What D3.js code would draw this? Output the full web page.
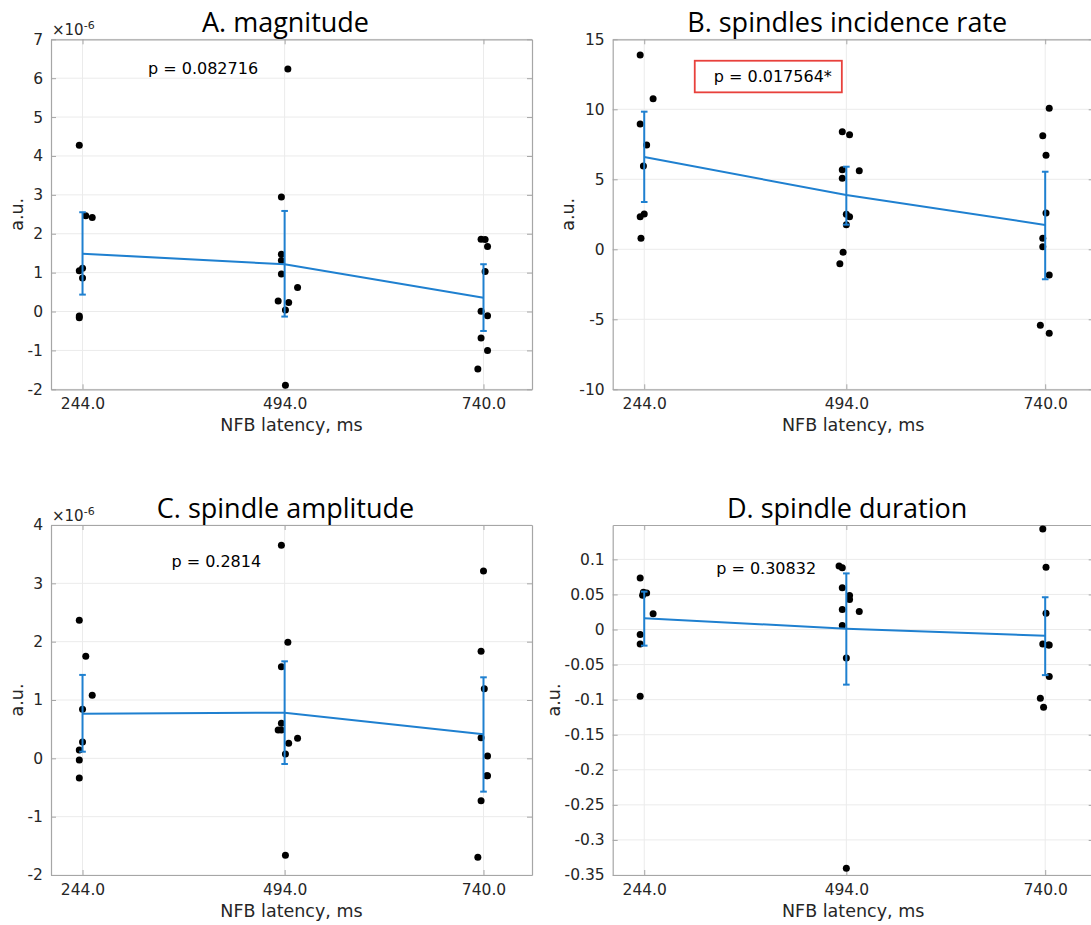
<!DOCTYPE html>
<html><head><meta charset="utf-8">
<script src="https://cdn.jsdelivr.net/npm/d3@7"></script>
<style>body{margin:0;background:#fff} svg{display:block}</style>
</head><body>
<svg id="chart" width="1091" height="925"></svg>
<script>
// ---------- shared data ----------
const latencies = [244, 494, 740];
const latencyLabels = ["244.0", "494.0", "740.0"];
const xDomain = [205, 800];
const xLabel = "NFB latency, ms";
const yLabel = "a.u.";

// ---------- A. magnitude (units of 1e-6) ----------
const magnitudeValues = [
  [4.275, 2.465, 2.42, 1.05, 1.11, 0.864, -0.113, -0.157],
  [6.236, 2.946, 1.473, 1.31, 0.967, 0.615, 0.272, 0.23, 0.04, -1.895],
  [1.858, 1.85, 1.67, 1.027, 0.008, -0.11, -0.68, -1.0, -1.48]
];
const magnitudeJitter = [
  [-4, 4, 12, -4, 0, 0, -4, -4],
  [4, -4, -4, -4, -4, 16, -8, 5, 1, 1],
  [-3, 2, 5, 2, -3, 5, -3, 5, -7]
];
const magnitudeMean = [1.488, 1.216, 0.357];
const magnitudeLow = [0.435, -0.13, -0.5];
const magnitudeHigh = [2.553, 2.586, 1.216];
const magnitudeTicks = [-2, -1, 0, 1, 2, 3, 4, 5, 6, 7];

// ---------- B. spindles incidence rate ----------
const rateValues = [
  [13.88, 10.76, 8.95, 7.45, 5.95, 2.52, 2.33, 0.79],
  [8.4, 8.19, 5.69, 5.61, 5.07, 2.5, 2.33, 1.76, -0.21, -1.03],
  [10.07, 8.11, 6.71, 2.6, 0.79, 0.19, -1.84, -5.43, -6.0]
];
const rateJitter = [
  [-5, 11, -5, 3, -1, 0, -5, -4],
  [-5, 4, -5, 16, -5, 0, 4, 0, -4, -8],
  [5, -3, 1, 1, -3, -3, 5, -6, 5]
];
const rateMean = [6.59, 3.88, 1.74];
const rateLow = [3.38, 1.76, -2.14];
const rateHigh = [9.83, 5.9, 5.54];
const rateTicks = [-10, -5, 0, 5, 10, 15];

// ---------- C. spindle amplitude (units of 1e-6) ----------
const amplitudeValues = [
  [2.366, 1.749, 1.08, 0.84, 0.28, 0.143, -0.029, -0.337],
  [3.652, 1.989, 1.571, 0.6, 0.486, 0.486, 0.257, 0.343, 0.074, -1.663],
  [3.211, 1.834, 1.194, 0.354, 0.04, -0.3, -0.3, -0.726, -1.697]
];
const amplitudeJitter = [
  [-4, 4, 12, 0, 0, -4, -4, -4],
  [-4, 4, -4, -4, -8, -4, 5, 16, 1, 1],
  [0, -3, 1, -3, 5, 5, 4, -3, -7]
];
const amplitudeMean = [0.765, 0.783, 0.411];
const amplitudeLow = [0.114, -0.097, -0.571];
const amplitudeHigh = [1.43, 1.663, 1.389];
const amplitudeTicks = [-2, -1, 0, 1, 2, 3, 4];

// ---------- D. spindle duration ----------
const durationValues = [
  [0.0733, 0.053, 0.052, 0.049, 0.0224, -0.0071, -0.0205, -0.095],
  [0.0905, 0.088, 0.0595, 0.0486, 0.0429, 0.0286, 0.0257, 0.0057, -0.0405, -0.3405],
  [0.1433, 0.0886, 0.0233, -0.0205, -0.022, -0.022, -0.067, -0.098, -0.111]
];
const durationJitter = [
  [-5, -1, 3, -2, 11, -5, -5, -5],
  [-9, -5, -5, 4, 4, -5, 16, -5, 0, 0],
  [-3, 1, 1, -3, 4, 5, 5, -6, -2]
];
const durationMean = [0.0162, 0.001, -0.009];
const durationLow = [-0.023, -0.0786, -0.065];
const durationHigh = [0.054, 0.08, 0.046];
const durationTicks = [-0.35, -0.3, -0.25, -0.2, -0.15, -0.1, -0.05, 0, 0.05, 0.1];

// ---------- panels ----------
const panels = [
  { title: "A. magnitude", values: magnitudeValues, jitter: magnitudeJitter,
    mean: magnitudeMean, low: magnitudeLow, high: magnitudeHigh,
    ticks: magnitudeTicks, yDomain: [-2, 7], exponent: "-6",
    pText: "p = 0.082716", pAt: [325, 6.25], boxed: false,
    left: 51, top: 39.3 },
  { title: "B. spindles incidence rate", values: rateValues, jitter: rateJitter,
    mean: rateMean, low: rateLow, high: rateHigh,
    ticks: rateTicks, yDomain: [-10, 15], exponent: null,
    pText: "p = 0.017564*", pAt: [330, 12.34], boxed: true,
    left: 612.7, top: 39.3 },
  { title: "C. spindle amplitude", values: amplitudeValues, jitter: amplitudeJitter,
    mean: amplitudeMean, low: amplitudeLow, high: amplitudeHigh,
    ticks: amplitudeTicks, yDomain: [-2, 4], exponent: "-6",
    pText: "p = 0.2814", pAt: [354, 3.38], boxed: false,
    left: 51, top: 525 },
  { title: "D. spindle duration", values: durationValues, jitter: durationJitter,
    mean: durationMean, low: durationLow, high: durationHigh,
    ticks: durationTicks, yDomain: [-0.35, 0.149], exponent: null,
    pText: "p = 0.30832", pAt: [333, 0.087], boxed: false,
    left: 612.7, top: 525 }
];

const PW = 481, PH = 350;
const BLUE = "#1f80d0";
const AXIS = "#a6a6a6";
const GRID = "#ebebeb";
const TXT = "#262626";
const FONT = "'DejaVu Sans', sans-serif";

const svg = d3.select("#chart");
svg.append("rect").attr("width", 1091).attr("height", 925).attr("fill", "#fff");

function fmtTick(v) {
  return String(+v.toFixed(4));
}

panels.forEach(p => {
  const g = svg.append("g");
  const x = d3.scaleLinear().domain(xDomain).range([p.left, p.left + PW]);
  const y = d3.scaleLinear().domain(p.yDomain).range([p.top + PH, p.top]);
  const bottom = p.top + PH, right = p.left + PW;

  // grid
  g.append("g").selectAll("line").data(p.ticks).join("line")
    .attr("x1", p.left).attr("x2", right)
    .attr("y1", d => y(d)).attr("y2", d => y(d))
    .attr("stroke", GRID).attr("stroke-width", 1);
  g.append("g").selectAll("line").data(latencies).join("line")
    .attr("x1", d => x(d)).attr("x2", d => x(d))
    .attr("y1", p.top).attr("y2", bottom)
    .attr("stroke", GRID).attr("stroke-width", 1);

  // axes
  const styleAxis = sel => {
    sel.select(".domain").attr("stroke", AXIS).attr("stroke-width", 1.2);
    sel.selectAll(".tick line").attr("stroke", AXIS).attr("stroke-width", 1);
    sel.selectAll(".tick text").attr("fill", TXT).style("font-family", FONT).style("font-size", "15.5px");
  };
  const yAxisL = g.append("g").attr("transform", `translate(${p.left},0)`)
    .call(d3.axisLeft(y).tickValues(p.ticks).tickFormat(fmtTick).tickSizeInner(-5).tickSizeOuter(0).tickPadding(8));
  styleAxis(yAxisL);
  const yAxisR = g.append("g").attr("transform", `translate(${right},0)`)
    .call(d3.axisRight(y).tickValues(p.ticks).tickFormat("").tickSizeInner(-5).tickSizeOuter(0));
  styleAxis(yAxisR);
  const xAxisB = g.append("g").attr("transform", `translate(0,${bottom})`)
    .call(d3.axisBottom(x).tickValues(latencies).tickFormat((d, i) => latencyLabels[i]).tickSizeInner(-5).tickSizeOuter(0).tickPadding(9));
  styleAxis(xAxisB);
  const xAxisT = g.append("g").attr("transform", `translate(0,${p.top})`)
    .call(d3.axisTop(x).tickValues(latencies).tickFormat("").tickSizeInner(-5).tickSizeOuter(0));
  styleAxis(xAxisT);
  g.selectAll(".domain").attr("stroke", AXIS);

  // points
  const pts = [];
  p.values.forEach((arr, gi) => arr.forEach((v, k) => pts.push({ x: latencies[gi] + p.jitter[gi][k], v })));
  g.append("g").selectAll("circle").data(pts).join("circle")
    .attr("cx", d => x(d.x)).attr("cy", d => y(d.v)).attr("r", 3.5).attr("fill", "#000");

  // mean line
  g.append("path")
    .attr("d", d3.line().x((d, i) => x(latencies[i])).y(d => y(d))(p.mean))
    .attr("fill", "none").attr("stroke", BLUE).attr("stroke-width", 2);
  // error bars
  const eb = g.append("g").attr("stroke", BLUE).attr("stroke-width", 2);
  latencies.forEach((L, i) => {
    const cx = x(L);
    eb.append("line").attr("x1", cx).attr("x2", cx).attr("y1", y(p.low[i])).attr("y2", y(p.high[i]));
    eb.append("line").attr("x1", cx - 3.3).attr("x2", cx + 3.3).attr("y1", y(p.low[i])).attr("y2", y(p.low[i]));
    eb.append("line").attr("x1", cx - 3.3).attr("x2", cx + 3.3).attr("y1", y(p.high[i])).attr("y2", y(p.high[i]));
  });

  // p-value annotation
  const pt = g.append("text").attr("x", x(p.pAt[0])).attr("y", y(p.pAt[1]))
    .attr("dominant-baseline", "central").attr("fill", "#000")
    .style("font-family", FONT).style("font-size", "16px").text(p.pText);
  if (p.boxed) {
    const bb = pt.node().getBBox();
    g.append("rect").attr("x", bb.x - 19).attr("y", y(p.pAt[1]) - 15.8)
      .attr("width", bb.width + 29).attr("height", 31.6)
      .attr("fill", "none").attr("stroke", "#e8413c").attr("stroke-width", 1.8);
  }

  // title
  g.append("text").attr("x", p.left + PW / 2 - 6).attr("y", p.top - 7)
    .attr("text-anchor", "middle").attr("fill", "#000")
    .style("font-family", "'Open Sans', sans-serif").style("font-size", "27px").text(p.title);

  // exponent
  if (p.exponent) {
    const ex = g.append("text").attr("x", p.left + 1).attr("y", p.top - 4.5)
      .attr("fill", TXT).style("font-family", FONT).style("font-size", "15px");
    ex.append("tspan").text("\u00d710");
    ex.append("tspan").attr("dy", -6).style("font-size", "11px").text(p.exponent);
  }

  // x label
  g.append("text").attr("x", p.left + PW / 2).attr("y", bottom + 42)
    .attr("text-anchor", "middle").attr("fill", TXT)
    .style("font-family", FONT).style("font-size", "17.5px").text(xLabel);

  // y label
  let maxW = 0;
  yAxisL.selectAll(".tick text").each(function () { maxW = Math.max(maxW, this.getBBox().width); });
  const lx = p.left - 8 - maxW - 11;
  g.append("text").attr("transform", `translate(${lx},${p.top + PH / 2}) rotate(-90)`)
    .attr("text-anchor", "middle").attr("dominant-baseline", "central").attr("fill", TXT)
    .style("font-family", FONT).style("font-size", "17.5px").text(yLabel);
});
</script>
</body></html>
